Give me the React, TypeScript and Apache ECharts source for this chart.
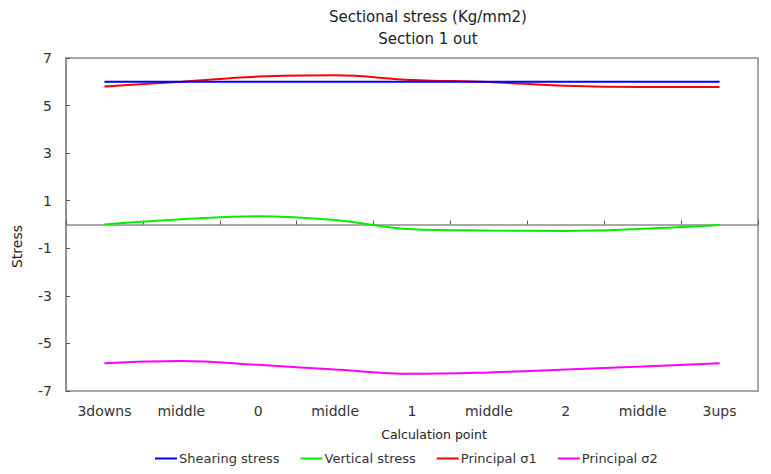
import React, { useEffect, useRef } from "react";
import * as echarts from "echarts";

const categories = ["3downs", "middle", "0", "middle", "1", "middle", "2", "middle", "3ups"];
const shearingStress = [6.0, 6.0, 6.0, 6.0, 6.0, 6.0, 6.0, 6.0, 6.0];
const verticalStress = [0.0, 0.22, 0.35, 0.19, -0.2, -0.25, -0.27, -0.18, -0.02];
const principal1 = [5.8, 6.0, 6.22, 6.27, 6.08, 5.99, 5.83, 5.78, 5.78];
const principal2 = [-5.83, -5.74, -5.9, -6.1, -6.28, -6.22, -6.1, -5.97, -5.83];
const seriesNames = ["Shearing stress", "Vertical stress", "Principal σ1", "Principal σ2"];
const seriesColors = ["#0000ff", "#00ee00", "#ff0000", "#ff00ff"];

const FONT = "'DejaVu Sans', Verdana, sans-serif";

export default function App() {
  const ref = useRef<HTMLDivElement>(null);
  useEffect(() => {
    document.body.style.margin = "0";
    if (!ref.current) return;
    const chart = echarts.init(ref.current, undefined, { renderer: "svg" });
    const data = [shearingStress, verticalStress, principal1, principal2];
    chart.setOption({
      animation: false,
      backgroundColor: "#ffffff",
      textStyle: { fontFamily: FONT },
      title: {
        text: "Sectional stress (Kg/mm2)",
        subtext: "Section 1 out",
        left: 423,
        top: 4,
        textAlign: "center",
        itemGap: 7,
        textStyle: { fontSize: 15, fontWeight: "normal", color: "#222", fontFamily: FONT },
        subtextStyle: { fontSize: 15, color: "#222", fontFamily: FONT },
      },
      legend: {
        data: seriesNames,
        bottom: 4,
        left: 150,
        itemGap: 21,
        itemWidth: 22,
        itemHeight: 2,
        icon: "rect",
        textStyle: { fontSize: 13, color: "#333", fontFamily: FONT, padding: [0, 0, 0, -3] },
      },
      grid: {
        left: 66,
        right: 13,
        top: 58,
        bottom: 83,
        show: true,
        borderColor: "#8a8a8a",
        borderWidth: 1.5,
        backgroundColor: "#ffffff",
      },
      xAxis: [
        {
          type: "category",
          data: categories,
          boundaryGap: true,
          position: "bottom",
          axisLine: { onZero: true, lineStyle: { color: "#8a8a8a", width: 1.5 } },
          axisTick: { show: true, inside: true, length: 4, lineStyle: { color: "#555" } },
          axisLabel: { show: false },
          splitLine: { show: false },
        },
        {
          type: "category",
          data: categories,
          boundaryGap: true,
          position: "bottom",
          name: "Calculation point",
          nameLocation: "middle",
          nameGap: 37,
          nameTextStyle: { fontSize: 12.5, color: "#222", fontFamily: FONT, padding: [0, 0, 0, 44] },
          axisLine: { show: false, onZero: false },
          axisTick: { show: false },
          axisLabel: { show: true, margin: 13, fontSize: 14, color: "#333", fontFamily: FONT },
          splitLine: { show: false },
        },
      ],
      yAxis: {
        type: "value",
        min: -7,
        max: 7,
        interval: 2,
        name: "Stress",
        nameLocation: "middle",
        nameGap: 42,
        nameTextStyle: { fontSize: 14, color: "#222", fontFamily: FONT, padding: [0, 44, 0, 0] },
        axisLine: { show: true, lineStyle: { color: "#8a8a8a", width: 1.5 } },
        axisTick: { show: true, inside: true, length: 4, lineStyle: { color: "#555" } },
        axisLabel: { fontSize: 14, color: "#333", margin: 14, fontFamily: FONT },
        splitLine: { show: false },
      },
      series: seriesNames.map((name, i) => ({
        name,
        type: "line",
        xAxisIndex: 0,
        data: data[i],
        smooth: 0.4,
        symbol: "none",
        color: seriesColors[i],
        lineStyle: { color: seriesColors[i], width: 2 },
        z: i === 0 ? 3 : 2,
      })),
    });
    return () => chart.dispose();
  }, []);
  return (
    <div
      ref={ref}
      style={{ position: "fixed", left: 0, top: 0, width: 771, height: 474 }}
    />
  );
}
